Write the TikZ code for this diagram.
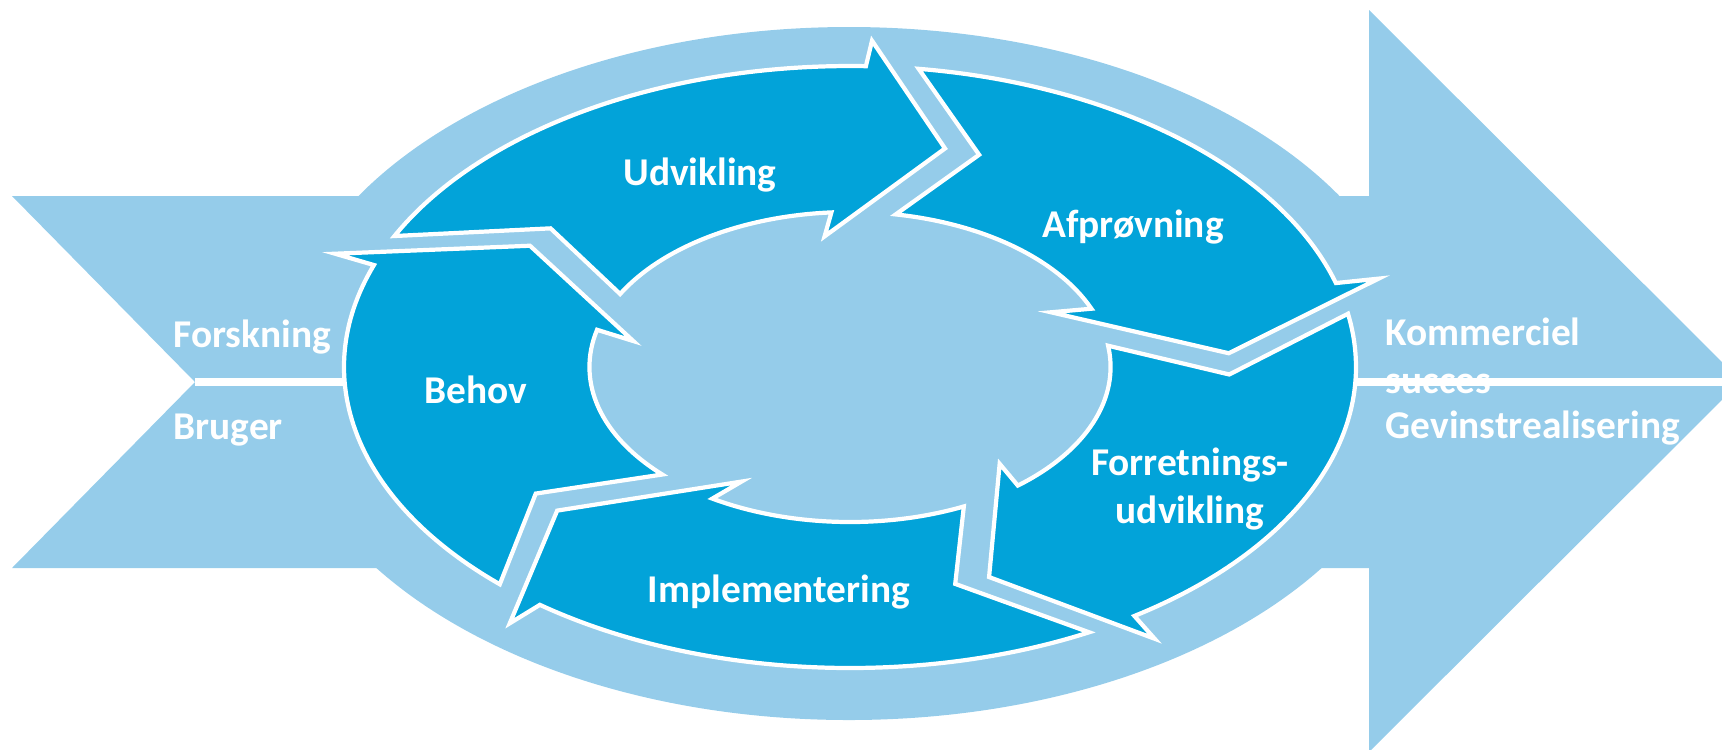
\documentclass[tikz,border=0pt]{standalone}
\usepackage{fontspec}
\setmainfont{Carlito}
\usetikzlibrary{positioning}

\definecolor{ringblue}{HTML}{02A3D9}
\definecolor{paleblue}{HTML}{95CCEA}

\begin{document}
\begin{tikzpicture}[x=0.1mm, y=-0.1mm,
  lbl/.style={text=white, font=\fontsize{11.2}{13.4}\selectfont\bfseries, inner sep=0pt},
  ringarrow/.style={fill=ringblue, draw=white, line width=1.2pt, line join=miter}]

\useasboundingbox (0,0) rectangle (1722,749);
\clip (0,0) rectangle (1722,749);

% big arrow and ellipse behind
\fill[paleblue] (12,196) -- (1369,196) -- (1369,10) -- (1741,381) -- (1369,752)
  -- (1369,568) -- (12,568) -- (195,382) -- cycle;
\fill[paleblue] (849,373.5) ellipse [x radius=571, y radius=346.5];

\coordinate (notch) at (195,382);
\coordinate (tip) at (1741,382);
\coordinate (ringL) at (345,382);
\coordinate (ringR) at (1355,382);
\draw[white, line width=2.3pt] (notch) -- (ringL) (ringR) -- (tip);

% the five arrows of the cycle
\begin{scope}[shift={(850,367)}, xscale=506, yscale=301]
  \foreach \t in {-154.2, -82.2, -10.2, 61.8, 133.8}
    \draw[ringarrow] (\t:1) arc[start angle=\t, end angle=\t+66, radius=1]
      -- ({\t+66.5}:1.085) -- ({\t+78.7}:0.75) -- ({\t+57.6}:0.437)
      -- ({\t+60.1}:0.515) arc[start angle=\t+60.1, end angle=\t+2.3, radius=0.515]
      -- ({\t+12.1}:0.75) -- cycle;
\end{scope}

\node[lbl, anchor=base] (udv) at (700,185) {Udvikling};
\node[lbl, anchor=base] (afp) at (1133,237) {Afprøvning};
\node[lbl, anchor=base, align=center] (forr) at (1190,523) {Forretnings-\\udvikling};
\node[lbl, anchor=base] (impl) at (779,602) {Implementering};
\node[lbl, anchor=base] (behov) at (476,403) {Behov};
\node[lbl, anchor=base west] (forsk) at (173,347) {Forskning};
\node[lbl, anchor=base west] (bruger) at (173,439) {Bruger};
\node[lbl, anchor=base west, align=left] (komm) at (1385,393) {Kommerciel\\succes};
\node[lbl, anchor=base west] (gevinst) at (1385,438) {Gevinstrealisering};

\end{tikzpicture}
\end{document}
